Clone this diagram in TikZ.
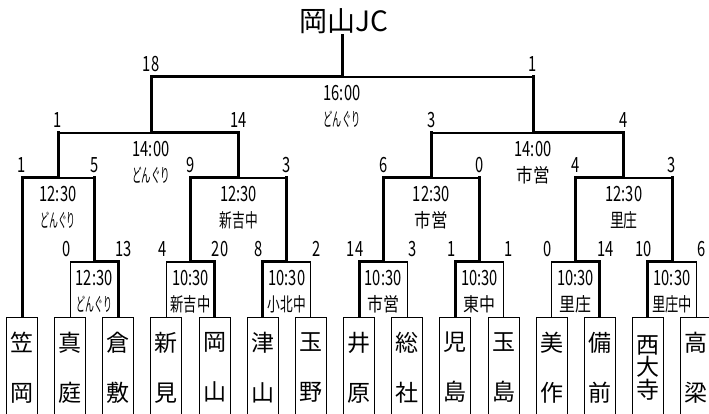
\documentclass[tikz,border=0pt]{standalone}
\usepackage{fontspec}
\setmainfont{Noto Sans CJK JP}
\usepackage{graphicx}

\newcommand{\nar}[2][0.7]{\scalebox{#1}[1]{#2}}

\begin{document}
\begin{tikzpicture}[x=1pt, y=1pt]
	\tikzstyle{team} = [draw, line width=1pt, anchor=north, minimum width=31pt, minimum height=100pt, inner sep=0pt, align=center]
	\tikzstyle{win} = [line width=3pt]
	\tikzstyle{lose} = [line width=1.1pt]
	\tikzstyle{rise} = [line width=3pt, line cap=rect]
	\tikzstyle{sc} = [anchor=base, yshift=5.5pt, inner sep=0pt, font=\fontsize{21pt}{24pt}\selectfont]
	\tikzstyle{scl} = [sc, xshift=-4pt]
	\tikzstyle{scr} = [sc, xshift=5.5pt]
	\tikzstyle{scc} = [sc]
	\tikzstyle{hour} = [anchor=base, yshift=-23.5pt, inner sep=0pt, font=\fontsize{21pt}{24pt}\selectfont]
	\tikzstyle{venue} = [anchor=base, yshift=-50pt, inner sep=0pt, font=\fontsize{19pt}{22pt}\selectfont]

	\useasboundingbox (0,0) rectangle (709,414);

	% teams
	\foreach \n/\ls [count=\i from 0] in {笠\\岡/50pt, 真\\庭/50pt, 倉\\敷/50pt, 新\\見/50pt, 岡\\山/50pt, 津\\山/50pt, 玉\\野/50pt, 井\\原/50pt, 総\\社/50pt, 児\\島/50pt, 玉\\島/50pt, 美\\作/50pt, 備\\前/50pt, 西\\大\\寺/22.5pt, 高\\梁/50pt}
		\node[team, font=\fontsize{23pt}{\ls}\selectfont] (t\i) at ({22+48.15*\i}, 97) {\n};

	% games
	\coordinate (g1) at (94.2, 152);
	\coordinate (g2) at (190.5, 152);
	\coordinate (g3) at (286.8, 152);
	\coordinate (g4) at (383.1, 152);
	\coordinate (g5) at (479.4, 152);
	\coordinate (g6) at (575.7, 152);
	\coordinate (g7) at (672, 152);
	\coordinate (g8) at (58, 236);
	\coordinate (g9) at (238.7, 236);
	\coordinate (g10) at (431.3, 236);
	\coordinate (g11) at (623.9, 236);
	\coordinate (g12) at (151, 281);
	\coordinate (g13) at (533, 281);
	\coordinate (g14) at (342, 337);

	\node[anchor=base, inner sep=0pt, font=\fontsize{28pt}{32pt}\selectfont] (champ) at (344, 382) {岡山JC};

	\foreach \g/\a/\sa/\wa/\b/\sb/\wb/\ls/\rs in {
		g1/t1.north/0/lose/t2.north/13/win/scl/scr,
		g2/t3.north/4/lose/t4.north/20/win/scl/scr,
		g3/t5.north/8/win/t6.north/2/lose/scl/scr,
		g4/t7.north/14/win/t8.north/3/lose/scl/scr,
		g5/t9.north/1/win/t10.north/1/lose/scl/scr,
		g6/t11.north/0/lose/t12.north/14/win/scl/scr,
		g7/t13.north/10/win/t14.north/6/lose/scl/scr,
		g8/t0.north/1/win/g1/5/lose/scc/scc,
		g9/g2/9/win/g3/3/lose/scc/scc,
		g10/g4/6/win/g5/0/lose/scc/scc,
		g11/g6/4/win/g7/3/lose/scc/scc,
		g12/g8/1/lose/g9/14/win/scc/scc,
		g13/g10/3/lose/g11/4/win/scc/scc,
		g14/g12/18/win/g13/1/lose/scc/scc} {
		\draw[\wa] (\a) |- node[\ls] (\g-l) {\nar{\sa}} (\g);
		\draw[\wb] (\b) |- node[\rs] (\g-r) {\nar{\sb}} (\g);
	}

	% winners go up
	\foreach \a/\b in {g1/g8, g2/g9, g3/g9, g4/g10, g5/g10, g6/g11, g7/g11, g8/g12, g9/g12, g10/g13, g11/g13, g12/g14, g13/g14}
		\draw[rise] (\a) -- (\a |- \b);
	\draw[rise] (g14) -- ([yshift=-1.5pt]g14 |- champ.south);

	% time and place
	\foreach \g/\hr/\vn/\sx in {g1/12:30/どんぐり/0.47, g2/10:30/新吉中/0.70, g3/10:30/小北中/0.67, g4/10:30/市営/0.84, g5/10:30/東中/0.84, g6/10:30/里庄/0.84, g7/10:30/里庄中/0.70, g8/12:30/どんぐり/0.47, g9/12:30/新吉中/0.67, g10/12:30/市営/0.87, g11/12:30/里庄/0.73, g12/14:00/どんぐり/0.50, g13/14:00/市営/0.87, g14/16:00/どんぐり/0.48} {
		\node[hour] (\g-h) at (\g) {\nar{\hr}};
		\node[venue] (\g-v) at (\g) {\nar[\sx]{\vn}};
	}
\end{tikzpicture}
\end{document}
